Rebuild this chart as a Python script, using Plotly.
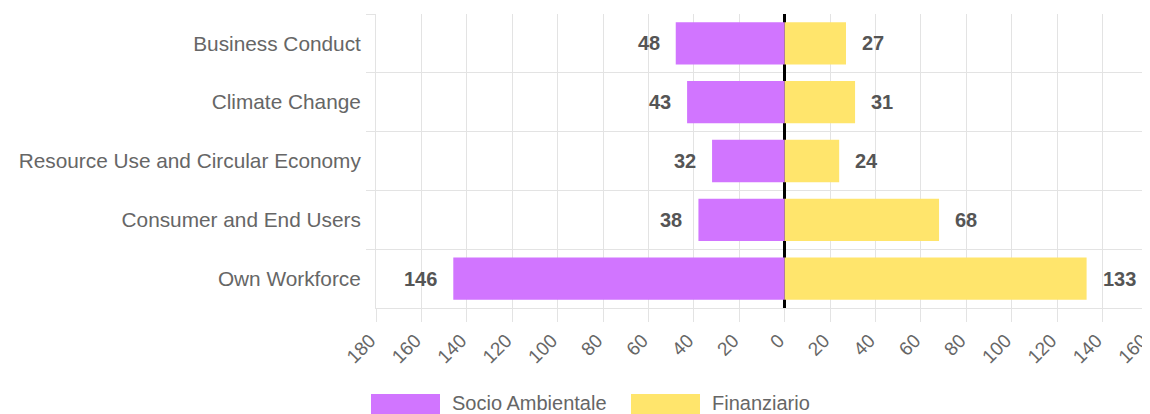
import plotly.graph_objects as go

categories = ["Business Conduct", "Climate Change", "Resource Use and Circular Economy",
              "Consumer and End Users", "Own Workforce"]
socio = [48, 43, 32, 38, 146]
finanz = [27, 31, 24, 68, 133]
tick_vals = list(range(-180, 161, 20))
tick_text = [str(abs(v)) for v in tick_vals]

PURPLE = "#D175FF"
YELLOW = "#FFE56C"
GRID = "#e3e3e3"
TXT = "#666666"
FONT = "Liberation Sans, Arial"

# the page adds an 8px body margin, so the figure is drawn 8px in from the corner
W, H = 1142, 406
L, T = 368, 6          # plot area left / top in figure px
PW, PH = 772, 294      # plot area size

fig = go.Figure()
fig.add_trace(go.Bar(y=categories, x=[-v for v in socio], orientation="h",
                     marker=dict(color=PURPLE, line=dict(width=0)), name="Socio Ambientale"))
fig.add_trace(go.Bar(y=categories, x=finanz, orientation="h",
                     marker=dict(color=YELLOW, line=dict(width=0)), name="Finanziario"))

# value labels outside the bar ends
for c, v in zip(categories, socio):
    fig.add_annotation(x=-v, y=c, text="<b>%d</b>" % v, showarrow=False, xanchor="right",
                       xshift=-14, font=dict(size=20, color="#555555", family=FONT))
for c, v in zip(categories, finanz):
    fig.add_annotation(x=v, y=c, text="<b>%d</b>" % v, showarrow=False, xanchor="left",
                       xshift=14, font=dict(size=20, color="#555555", family=FONT))

# custom legend (wide swatches)
def px_x(p):
    return (p - L) / PW

def px_y(p):
    return (T + PH - p) / PH

legend_items = [("Socio Ambientale", PURPLE, 363), ("Finanziario", YELLOW, 623)]
for label, col, x0 in legend_items:
    fig.add_shape(type="rect", xref="paper", yref="paper",
                  x0=px_x(x0), x1=px_x(x0 + 69), y0=px_y(386), y1=px_y(408),
                  fillcolor=col, line=dict(width=0), layer="above")
    fig.add_annotation(xref="paper", yref="paper", x=px_x(x0 + 79), y=px_y(395),
                       text=label, showarrow=False, xanchor="left", yanchor="middle",
                       font=dict(size=20, color=TXT, family=FONT))

fig.update_layout(
    barmode="relative",
    bargap=0.28,
    showlegend=False,
    width=W, height=H,
    margin=dict(l=L, r=W - L - PW, t=T, b=H - T - PH, autoexpand=False),
    paper_bgcolor="white", plot_bgcolor="white",
    font=dict(family=FONT, color=TXT, size=20),
    xaxis=dict(range=[-180.05, 160.05], tickvals=tick_vals, ticktext=tick_text, tickangle=-45,
               showgrid=True, gridcolor=GRID, gridwidth=1,
               zeroline=True, zerolinecolor="black", zerolinewidth=3,
               showline=True, linecolor=GRID, ticks="outside", ticklen=13, tickcolor=GRID,
               tickfont=dict(size=19, color=TXT), automargin=False,
               ticklabeloverflow="allow", ticklabelshift=-6),
    yaxis=dict(categoryorder="array", categoryarray=categories, autorange="reversed",
               tickson="boundaries", showgrid=True, gridcolor=GRID,
               showline=True, linecolor=GRID, ticks="outside", ticklen=9, tickcolor=GRID,
               tickfont=dict(size=20.8, color=TXT), automargin=False, ticklabelstandoff=10),
)

fig.write_html("out.html")
